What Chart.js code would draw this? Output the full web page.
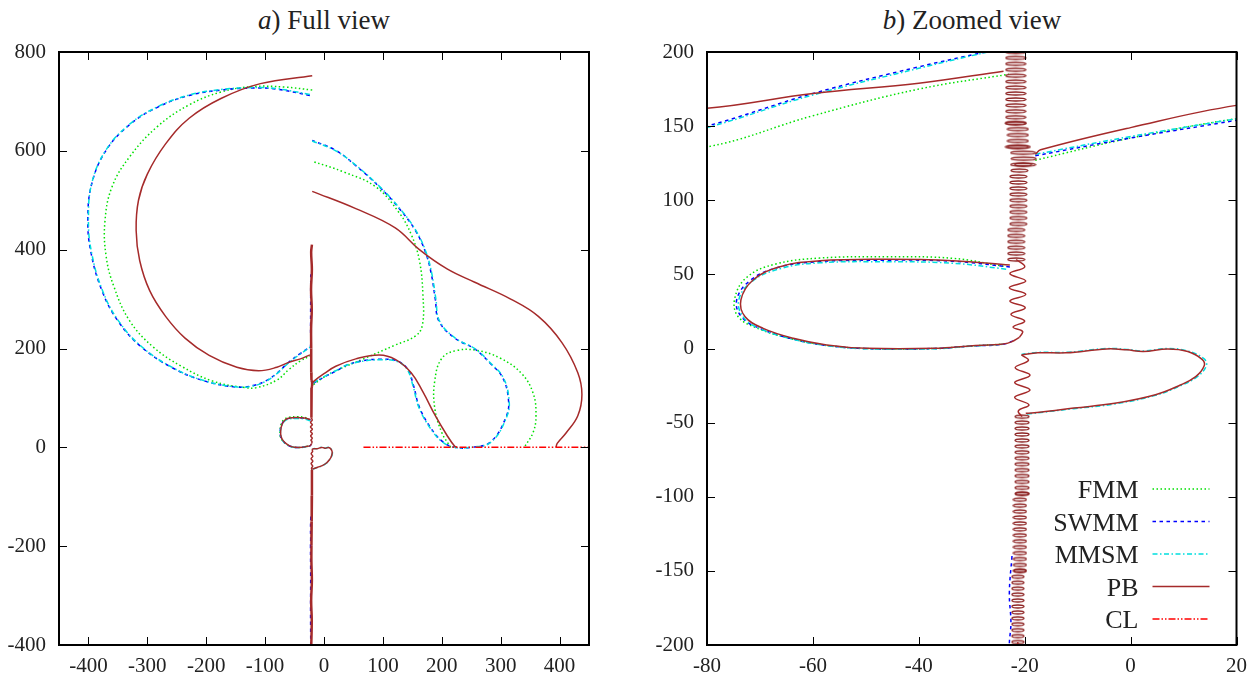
<!DOCTYPE html>
<html lang="en">
<head>
<meta charset="utf-8"/>
<title>a) Full view / b) Zoomed view</title>
<script src="https://cdn.jsdelivr.net/npm/chart.js"></script>
<style>
  body { margin: 0; background: #fff; width: 1256px; height: 678px; position: relative; overflow: hidden; font-family: "Liberation Serif", "DejaVu Serif", serif; }
  .box { position: absolute; top: 0; width: 628px; height: 678px; }
  .title { position: absolute; top: 5px; width: 400px; font-family: "Liberation Serif", "DejaVu Serif", serif; font-size: 27px; line-height: 30px; color: #222; text-align: center; white-space: nowrap; }
</style>
</head>
<body>
<div class="title" style="left:124px"><i>a</i>) Full view</div>
<div class="title" style="left:772px"><i>b</i>) Zoomed view</div>
<div class="box" style="left:0"><canvas id="fullChart" width="628" height="678"></canvas></div>
<div class="box" style="left:628px"><canvas id="zoomChart" width="628" height="678"></canvas></div>
<script>
const serifFont = '"Liberation Serif", "DejaVu Serif", serif';
Chart.defaults.font.family = serifFont;
Chart.defaults.font.size = 21;
Chart.defaults.color = '#222';

// axis ranges and ticks
const fullXTicks = [-400, -300, -200, -100, 0, 100, 200, 300, 400];
const fullYTicks = [-400, -200, 0, 200, 400, 600, 800];
const zoomXTicks = [-80, -60, -40, -20, 0, 20];
const zoomYTicks = [-200, -150, -100, -50, 0, 50, 100, 150, 200];

// FMM
const fmmArcLeft = [[-20,723],[-67,729],[-121,730],[-175,719],[-229,693],[-283,649],[-330,588],[-360,527],[-372,457],[-370,387],[-357,326],[-330,256],[-290,203],[-242,164],[-189,134],[-135,121],[-114,121],[-80,136],[-60,157],[-40,175],[-23,185]];
const fmmRightUpper = [[-18,127],[0,142],[20,155],[67,179],[121,207],[155,225],[167,247],[168,308],[162,378],[148,431],[128,474],[88,527],[34,557],[-20,579]];
const fmmRightLoop = [[215,0],[200,30],[188,80],[188,134],[200,180],[225,196],[260,196],[300,180],[335,150],[355,110],[360,64],[355,30],[340,0]];
const fmmLoopUpper = [[-24,55.5],[-33.5,60.8],[-46,61.9],[-58.7,61],[-67,57],[-72.5,48],[-74.8,33],[-74,21],[-70,13],[-64,6.5],[-57.6,2.2],[-50,0],[-37,0],[-30.4,1.6],[-24.1,2.9]];

// SWMM
const swmmArcLeft = [[-24,712],[-81,725],[-121,727],[-175,723],[-229,712],[-283,688],[-330,653],[-370,601],[-394,535],[-401,465],[-396,396],[-377,317],[-350,256],[-310,203],[-256,160],[-202,134],[-148,122],[-121,125],[-98,135],[-80,150],[-60,172],[-40,190],[-27.5,200],[-23,204],[-22.8,240],[-22.5,350]];
const swmmRight = [[-18,130],[0,142],[20,154],[40,167],[70,176],[94,178],[121,176],[141,160],[152,125],[162,81],[182,38],[202,11],[222,0],[249,0],[283,11],[310,64],[313,99],[303,142],[283,169],[256,199],[222,221],[195,256],[189,300],[182,352],[172,396],[155,439],[128,483],[94,527],[54,570],[20,601],[-20,621]];
const swmmLoopUpper = [[-22.8,55],[-33.5,58.8],[-46,59.6],[-58.7,58.6],[-66.5,54.8],[-71.8,46],[-74.4,32.7],[-73.4,21],[-69.8,13.2],[-64,6.6],[-57.6,2.2],[-50,0],[-37,0],[-30.4,1.6],[-24.1,2.9],[-21.9,5.6]];
const swmmCoilLow = [[-22.4,-140],[-22.9,-165],[-22.6,-185],[-22.9,-200],[-22.6,-260],[-22.8,-330],[-22.5,-400]];

// MMSM
const mmsmArcLeft = [[-24,714],[-81,726],[-121,728],[-175,724],[-229,713],[-283,689],[-330,654],[-370,602],[-394,536],[-400,465],[-395,396],[-376,317],[-349,256],[-309,203],[-255,160],[-201,134],[-147,122],[-121,124],[-98,134],[-80,149],[-60,171],[-40,189],[-27,200],[-23,203]];
const mmsmRight = [[-18,131],[0,143],[20,155],[40,167],[70,175],[94,177],[121,175],[140,160],[151,125],[161,81],[181,38],[201,11],[221,0],[249,0],[284,11],[311,64],[314,99],[304,142],[284,169],[257,199],[223,221],[196,256],[190,300],[183,352],[173,396],[156,439],[129,483],[95,527],[55,570],[20,600],[-20,620]];
const mmsmLoopUpper = [[-23.5,53.5],[-33.5,57.5],[-46,58.5],[-58.7,57.8],[-66,54],[-71.4,45.5],[-74,32.7],[-73,20.5],[-69.6,12.8],[-64,6.4],[-57.6,2.1],[-50,-0.2],[-37,-0.2],[-30.4,1.5],[-24.1,2.8]];
const mmsmLoopLower = [[-19.6,-44.2],[-10.7,-40.6],[-3,-37.4],[4.7,-31.6],[9.5,-25],[12.6,-19],[14.3,-11.7],[13.9,-7],[10.8,-1.7],[7,0],[2.4,-1.7],[-0.7,-0.6],[-4.5,0],[-12.2,-2.6],[-17.5,-2.6],[-20.6,-4]];

// PB
const pbArcLeft = [[-20,752],[-108,736],[-175,706],[-229,666],[-269,614],[-300,553],[-315,500],[-319,439],[-313,378],[-296,317],[-269,265],[-236,221],[-195,186],[-148,162],[-111,155],[-80,162],[-60,172],[-40,179],[-24,187]];
const pbRightUpper = [[-20,518],[54,483],[121,444],[162,400],[209,361],[256,334],[317,300],[364,265],[404,212],[431,151],[438,107],[431,64],[411,29],[396,8],[394,0]];
const pbMid = [[-18,131],[-17,134],[0,149],[20,164],[54,179],[94,187],[121,178],[148,151],[168,112],[189,64],[209,24],[222,2],[226,0]];
const pbWiggleUpper = [[-21.6,60],[-20.0,55],[-22.8,50.5],[-19.8,45.5],[-22.9,41],[-19.8,36.5],[-22.8,32],[-19.9,27.5],[-22.6,23],[-20.0,18.5],[-22.2,14.5],[-20.4,11.5],[-21.0,7.5]];
const pbLoopUpper = [[-21.0,7.5],[-22.5,4.5],[-24.1,3.0],[-30.4,1.7],[-36.7,0.1],[-49.9,0.1],[-57.4,2.4],[-63.7,6.9],[-69.4,13.6],[-72.8,21.4],[-73.6,32.7],[-71.3,46.2],[-66.2,55.2],[-58.7,59.2],[-46.1,60.2],[-33.5,59.2],[-22.8,56.3]];
const pbLoopLower = [[-19.8,-43.7],[-16.8,-42.9],[-10.7,-40.2],[-3.0,-37.0],[4.7,-31.2],[9.3,-24.8],[12.3,-19.0],[13.9,-11.7],[13.5,-7.3],[10.8,-2.0],[7.0,-0.3],[2.4,-2.0],[-0.7,-0.9],[-4.5,-0.3],[-12.2,-2.9],[-17.5,-2.9],[-20.6,-4.4]];
const pbWiggleLower = [[-20.6,-4.4],[-19.3,-8],[-21.8,-13],[-19.0,-18],[-21.9,-23],[-19.0,-28],[-21.9,-33],[-19.2,-38],[-21.2,-42],[-20.5,-46]];
// vertical sheet outside the zoomed window
const pbTailTop = [[-20.5,410],[-21.8,395],[-20.6,360],[-22,320],[-20.8,280],[-21.9,240],[-21.7,200]];
const pbTailBottom = [[-21.3,-198],[-21.4,-230],[-20.6,-270],[-21.8,-310],[-20.8,-350],[-21.6,-400]];
// centres of the rolled-up rings on the vertical sheet
const pbRingsTop = [[-21.7,200],[-21.7,196],[-21.7,192],[-21.7,188],[-21.7,184],[-21.7,180],[-21.7,176],[-21.7,172],[-21.7,168],[-21.7,164],[-21.7,160],[-21.7,156],[-21.7,152]];
const pbRingsJoinA = [[-21.7,152],[-21.3,148],[-21.3,144],[-21.3,140],[-21.3,136]];
const pbRingsJoinB = [[-21.3,136],[-20.3,132],[-20.2,128],[-20.3,124]];
const pbRingsMid = [[-20.3,124],[-21.0,120],[-21.2,116],[-21.2,112],[-21.2,108],[-21.2,104],[-21.2,100],[-21.2,96],[-21.2,92],[-21.2,88],[-21.2,84],[-21.6,80],[-21.6,76],[-21.6,72],[-21.6,68],[-21.6,64],[-21.6,60]];
const pbRingsLowA = [[-20.5,-46],[-20.5,-50],[-20.5,-54],[-20.5,-58],[-20.5,-62],[-20.5,-66],[-20.5,-70],[-20.5,-74],[-20.5,-78],[-20.5,-82],[-20.5,-86],[-20.5,-90],[-20.5,-94],[-20.5,-98]];
const pbRingsLowB = [[-20.5,-98],[-20.9,-102],[-20.9,-106],[-20.9,-110],[-20.9,-114],[-20.9,-118],[-20.9,-122],[-20.9,-126],[-20.9,-130],[-20.9,-134],[-20.9,-138],[-20.9,-142],[-20.9,-146],[-20.9,-150]];
const pbRingsLowC = [[-20.9,-150],[-21.3,-154],[-21.3,-158],[-21.3,-162],[-21.3,-166],[-21.3,-170],[-21.3,-174],[-21.3,-178],[-21.3,-182],[-21.3,-186],[-21.3,-190],[-21.3,-194],[-21.3,-198]];

// CL
const clLine = [[67,0],[450,0]];

const series = [
  { name: 'FMM',  color: '#00e000', dash: [1.5, 2.5], width: 1.5, order: 5, segments: [fmmArcLeft, fmmRightUpper, fmmRightLoop, fmmLoopUpper] },
  { name: 'SWMM', color: '#0000ff', dash: [3.5, 3.5], width: 1.5, order: 4, segments: [swmmArcLeft, swmmRight, swmmLoopUpper, swmmCoilLow] },
  { name: 'MMSM', color: '#00dede', dash: [5, 2.5, 1.5, 2.5], width: 1.5, order: 3, segments: [mmsmArcLeft, mmsmRight, mmsmLoopUpper, mmsmLoopLower] },
  { name: 'PB',   color: '#a52a2a', dash: [], width: 1.5, order: 2, segments: [pbArcLeft, pbRightUpper, pbMid, pbWiggleUpper, pbLoopUpper, pbLoopLower, pbWiggleLower] },
  { name: 'CL',   color: '#ff0000', dash: [7, 2, 1.5, 2, 1.5, 2], width: 1.5, order: 1, segments: [clLine] }
];
const pb = series[3];

// ring sizes in the zoomed panel (pixels)
const pbRings = [
  { pts: pbRingsTop, px: 20 },
  { pts: pbRingsJoinA, px: 21 },
  { pts: pbRingsJoinB, px: 25 },
  { pts: pbRingsMid, px: 17 },
  { pts: pbRingsLowA, px: 14 },
  { pts: pbRingsLowB, px: 13 },
  { pts: pbRingsLowC, px: 12 }
];

function ringImage(w) {
  const c = document.createElement('canvas');
  c.width = w + 2;
  c.height = 7;
  const g = c.getContext('2d');
  g.strokeStyle = '#8b1f1f';
  g.lineWidth = 1.3;
  g.beginPath();
  g.ellipse(c.width / 2, 3.5, w / 2, 1.5, 0, 0, Math.PI * 2);
  g.stroke();
  return c;
}

function lineSet(s, seg, width) {
  return {
    label: s.name,
    data: seg.map(p => ({ x: p[0], y: p[1] })),
    borderColor: s.color,
    borderDash: s.dash,
    borderWidth: width,
    showLine: true,
    pointRadius: 0,
    pointHoverRadius: 0,
    tension: 0.4,
    fill: false,
    order: s.order
  };
}

function makeDatasets(zoomed) {
  const out = [];
  series.forEach(s => {
    s.segments.forEach(seg => out.push(lineSet(s, seg, s.width)));
  });
  [pbTailTop, pbTailBottom].forEach(seg => out.push(lineSet(pb, seg, zoomed ? pb.width : 2.5)));
  pbRings.forEach(r => {
    const ds = lineSet(pb, r.pts, 2.5);
    ds.tension = 0;
    if (zoomed) {
      ds.showLine = false;
      ds.pointRadius = 3;
      ds.pointStyle = ringImage(r.px);
    }
    out.push(ds);
  });
  return out;
}

// inward ticks on all four sides + frame, gnuplot style
const framePlugin = {
  id: 'frame',
  afterDatasetsDraw(chart) {
    const { ctx, chartArea: a, scales: { x, y } } = chart;
    ctx.save();
    ctx.strokeStyle = '#000';
    ctx.lineWidth = 1;
    ctx.beginPath();
    x.ticks.forEach(t => {
      const px = Math.round(x.getPixelForValue(t.value)) + 0.5;
      ctx.moveTo(px, a.bottom); ctx.lineTo(px, a.bottom - 8);
      ctx.moveTo(px, a.top); ctx.lineTo(px, a.top + 8);
    });
    y.ticks.forEach(t => {
      const py = Math.round(y.getPixelForValue(t.value)) + 0.5;
      ctx.moveTo(a.left, py); ctx.lineTo(a.left + 8, py);
      ctx.moveTo(a.right, py); ctx.lineTo(a.right - 8, py);
    });
    ctx.stroke();
    ctx.lineWidth = 2;
    ctx.strokeRect(a.left, a.top, a.right - a.left, a.bottom - a.top);
    ctx.restore();
  }
};

const keyPlugin = {
  id: 'key',
  afterDraw(chart) {
    const { ctx, chartArea: a } = chart;
    ctx.save();
    ctx.font = '26px ' + serifFont;
    ctx.textAlign = 'right';
    ctx.textBaseline = 'alphabetic';
    series.forEach((s, i) => {
      const yc = a.bottom - 156 + i * 32.5;
      ctx.fillStyle = '#222';
      ctx.fillText(s.name, a.right - 98, yc + 9);
      ctx.strokeStyle = s.color;
      ctx.lineWidth = s.width;
      ctx.setLineDash(s.dash);
      ctx.beginPath();
      ctx.moveTo(a.right - 84, yc);
      ctx.lineTo(a.right - 27, yc);
      ctx.stroke();
    });
    ctx.restore();
  }
};

function axis(min, max, tickList, isX, yWidth) {
  return {
    type: 'linear',
    position: isX ? 'bottom' : 'left',
    min: min,
    max: max,
    afterBuildTicks: s => { s.ticks = tickList.map(v => ({ value: v })); },
    afterFit: s => { if (isX) s.height = 33; else s.width = yWidth; },
    grid: { display: false, drawTicks: false },
    border: { display: false },
    ticks: {
      color: '#222',
      font: { family: serifFont, size: 21 },
      padding: isX ? 9 : 13,
      autoSkip: false,
      maxRotation: 0,
      callback: v => String(v)
    }
  };
}

function makeChart(id, zoomed, xr, yr, xt, yt, yWidth, rightPad, plugins) {
  return new Chart(document.getElementById(id), {
    type: 'scatter',
    data: { datasets: makeDatasets(zoomed) },
    options: {
      responsive: false,
      animation: false,
      events: [],
      layout: { padding: { top: 52, right: rightPad, bottom: 0, left: 0 } },
      elements: { line: { capBezierPoints: false } },
      plugins: { legend: { display: false }, tooltip: { enabled: false }, title: { display: false } },
      scales: {
        x: axis(xr[0], xr[1], xt, true),
        y: axis(yr[0], yr[1], yt, false, yWidth)
      }
    },
    plugins: plugins
  });
}

makeChart('fullChart', false, [-450, 450], [-400, 800], fullXTicks, fullYTicks, 59, 39, [framePlugin]);
makeChart('zoomChart', true, [-80, 20], [-200, 200], zoomXTicks, zoomYTicks, 79, 19, [framePlugin, keyPlugin]);
</script>
</body>
</html>
